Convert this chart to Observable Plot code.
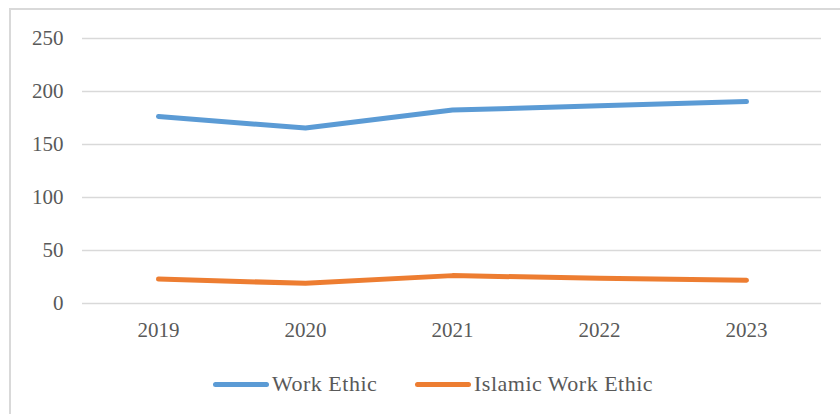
<!DOCTYPE html>
<html>
<head>
<meta charset="utf-8">
<script src="https://cdn.jsdelivr.net/npm/d3@7"></script>
<script src="https://cdn.jsdelivr.net/npm/@observablehq/plot@0.6"></script>
<style>
  html, body { margin: 0; padding: 0; background: #fff; }
  #wrap { position: relative; width: 840px; height: 414px; overflow: hidden; font-family: "Liberation Serif", "DejaVu Serif", serif; }
  #frame { position: absolute; left: 9px; top: 8px; width: 860px; height: 440px; border: 2px solid #d9d9d9; box-sizing: border-box; pointer-events: none; }
  #chart { position: absolute; left: 0; top: 0; }
  #legend { position: absolute; left: 0; top: 360px; width: 840px; height: 46px; }
  .item { position: absolute; top: 11px; display: flex; align-items: center; font-size: 22px; letter-spacing: 0.5px; color: #595959; }
  .swatch { width: 56px; height: 5px; border-radius: 3px; margin-right: 3px; }
</style>
</head>
<body>
<div id="wrap">
  <div id="chart"></div>
  <div id="legend"></div>
  <div id="frame"></div>
</div>
<script>
const years = ["2019", "2020", "2021", "2022", "2023"];
const workEthic = [176.5, 165.5, 182.5, 186.5, 190.5];
const islamicWorkEthic = [23, 19, 26.3, 23.8, 22];
const seriesNames = ["Work Ethic", "Islamic Work Ethic"];
const seriesColors = ["#5B9BD5", "#ED7D31"];
const yTicks = [0, 50, 100, 150, 200, 250];

const rows = [];
years.forEach((yr, i) => {
  rows.push({year: yr, value: workEthic[i], series: seriesNames[0]});
  rows.push({year: yr, value: islamicWorkEthic[i], series: seriesNames[1]});
});

const plot = Plot.plot({
  width: 840,
  height: 360,
  marginLeft: 82,
  marginRight: 19,
  marginTop: 38,
  marginBottom: 57,
  style: { fontFamily: "Liberation Serif, serif", fontSize: "21px", color: "#595959", background: "transparent" },
  x: { type: "point", domain: years, padding: 0.5, label: null },
  y: { domain: [0, 250], label: null },
  color: { domain: seriesNames, range: seriesColors },
  marks: [
    Plot.gridY(yTicks, { stroke: "#d9d9d9", strokeOpacity: 1, strokeWidth: 1.5 }),
    Plot.axisY({ ticks: yTicks, tickSize: 0, tickPadding: 19, label: null, fill: "#595959" }),
    Plot.axisX({ tickSize: 0, tickPadding: 19, label: null, fill: "#595959" }),
    Plot.line(rows, { x: "year", y: "value", z: "series", stroke: "series", strokeWidth: 5, strokeLinecap: "round", strokeLinejoin: "round" })
  ]
});
document.getElementById("chart").appendChild(plot);

const legend = document.getElementById("legend");
const lefts = [213, 415];
seriesNames.forEach((name, i) => {
  const item = document.createElement("div");
  item.className = "item";
  item.style.left = lefts[i] + "px";
  const sw = document.createElement("div");
  sw.className = "swatch";
  sw.style.background = seriesColors[i];
  const tx = document.createElement("span");
  tx.textContent = name;
  item.appendChild(sw);
  item.appendChild(tx);
  legend.appendChild(item);
});
</script>
</body>
</html>
